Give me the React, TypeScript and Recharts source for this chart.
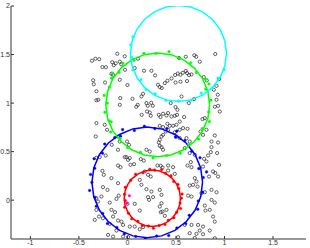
import React from 'react';
import { ComposedChart, Scatter, XAxis, YAxis } from 'recharts';

const xTicks = [-1, -0.5, 0, 0.5, 1, 1.5];
const yTicks = [0, 0.5, 1, 1.5, 2];

const samplePoints: number[][] = [
  [-0.365,1.436],[-0.330,1.457],[-0.291,1.452],[-0.258,1.371],[-0.222,1.369],[-0.105,1.508],[-0.157,1.421],[-0.141,1.390],[-0.121,1.410],[-0.079,1.426],[-0.064,1.400],[-0.028,1.482],[-0.025,1.343],[0.075,1.361],[0.109,1.457],[0.171,1.333],[0.247,1.333],[0.532,1.464],[0.601,1.477],[0.689,1.493],[0.709,1.477],[0.745,1.426],[0.905,1.505],
  [-0.353,1.235],[-0.347,1.194],[-0.231,1.212],[-0.165,1.302],[-0.148,1.292],[-0.079,1.240],[-0.320,1.122],[-0.320,1.029],[-0.301,1.034],[-0.074,1.052],[-0.079,0.982],[0.000,1.186],[0.052,1.044],[0.091,0.962],[0.106,0.982],[0.144,1.068],[0.161,1.096],[0.196,1.000],[0.209,0.972],[0.245,1.003],[0.261,0.972],[0.202,0.913],
  [0.285,1.285],[0.315,1.189],[0.333,1.165],[0.354,1.155],[0.385,1.206],[0.412,1.230],[0.454,1.254],[0.491,1.289],[0.519,1.305],[0.546,1.292],[0.570,1.312],[0.601,1.330],[0.614,1.309],[0.635,1.289],[0.660,1.295],[0.495,1.212],[0.546,1.220],[0.614,1.227],[0.557,1.068],[0.632,1.000],[0.687,1.041],[0.787,1.268],[0.818,1.233],[0.890,1.137],[0.918,1.178],[0.944,1.247],[0.931,1.086],[0.918,1.034],[0.900,0.962],[0.934,0.972],
  [0.446,1.000],[0.495,0.959],[0.515,0.931],[0.419,0.897],[0.402,0.872],[0.454,0.862],[0.488,0.869],[0.584,0.856],[0.773,0.835],[0.797,0.845],[0.952,0.913],[-0.320,0.794],
  [0.147,0.879],[0.230,0.903],[0.240,0.869],[0.323,0.879],[0.340,0.856],[0.367,0.890],[0.511,0.879],[0.539,0.810],
  [0.333,0.766],[0.367,0.753],[0.412,0.787],[0.436,0.766],[0.419,0.725],[0.395,0.707],[0.367,0.673],[0.351,0.656],[0.333,0.622],[0.323,0.594],[0.333,0.560],[0.351,0.546],[0.367,0.519],[0.470,0.766],[0.505,0.776],[0.539,0.725],[0.573,0.742],[0.505,0.656],[0.539,0.639],[0.608,0.639],[0.642,0.604],
  [-0.234,0.776],[-0.210,0.725],[-0.327,0.656],[-0.097,0.656],[-0.079,0.604],[-0.004,0.604],[0.016,0.570],[-0.162,0.570],[-0.097,0.519],[-0.010,0.443],[0.006,0.415],[0.024,0.433],[0.031,0.364],[0.068,0.371],[0.137,0.423],[0.168,0.408],[0.196,0.519],[0.230,0.501],
  [-0.258,0.302],[-0.244,0.261],[-0.165,0.227],[-0.097,0.175],[0.178,0.295],[0.212,0.261],[0.240,0.243],[0.343,0.354],[0.361,0.336],
  [0.753,0.707],[0.779,0.673],[0.814,0.725],[0.866,0.604],[0.934,0.594],[0.924,0.485],[0.944,0.364],[0.814,0.398],[0.779,0.346],[0.882,0.295],[0.642,0.485],[0.694,0.467],[0.591,0.536],[0.694,0.227],[0.711,0.192],[0.676,0.158],[0.722,0.140],[0.841,0.243],[0.905,0.280],[0.934,0.243],[0.866,0.106],[0.660,0.037],[0.763,0.072],[0.866,0.003],[0.900,-0.025],[0.848,-0.100],[0.882,-0.169],[0.900,-0.221],
  [0.127,0.209],[0.144,0.158],[0.196,0.113],[0.247,0.089],[0.264,0.031],[0.223,0.003],[0.333,0.106],[0.351,0.055],[0.351,-0.031],[0.333,-0.066],[0.361,-0.118],[0.402,-0.100],[0.385,-0.162],
  [-0.320,0.021],[-0.303,-0.014],[-0.268,0.037],[-0.320,-0.100],[-0.293,-0.169],[-0.337,-0.203],[-0.252,-0.186],[-0.165,-0.100],[-0.148,-0.169],[-0.062,-0.221],[-0.045,-0.255],[0.024,-0.272],[0.075,-0.272],[0.127,-0.299],[0.161,-0.278],[0.591,-0.255],[0.660,-0.255],[0.728,-0.255],[0.779,-0.272],[0.642,-0.340],[0.711,-0.347],[0.779,-0.351],[-0.200,-0.358],[-0.148,-0.375],[-0.045,-0.375],[0.006,-0.381],[0.900,-0.392],
  [-0.320,0.436],[-0.286,0.443],[-0.224,0.460],[-0.097,0.357],[-0.072,0.340],[-0.028,0.443],[-0.252,0.134],[-0.206,0.106],[-0.113,0.013],[-0.090,0.047],[-0.182,-0.025],[-0.128,-0.124],[-0.182,-0.244],[-0.097,-0.210],[-0.113,-0.313],[0.000,-0.038],[0.075,-0.038],[0.127,-0.107],[0.212,0.031],
  [0.619,0.735],[0.900,0.666],[0.866,0.546],[0.859,0.495],[0.790,0.426],[0.831,0.460],[0.309,0.357],[0.419,0.357],[0.470,0.340],[0.419,0.305],[0.488,0.271],[0.619,0.357],[0.653,0.392],[0.660,0.340],[0.642,0.151],[0.625,0.047],[0.797,0.082],[0.918,0.082],[0.797,-0.056],[0.804,-0.107],[0.848,-0.313],[0.745,-0.313],[0.343,-0.124],[0.522,-0.381],[0.694,-0.390],[0.488,0.700],
];

const redRing: number[][] = [
  [0.546,0.020],[0.536,0.095],[0.507,0.165],[0.461,0.225],[0.401,0.271],[0.331,0.300],[0.256,0.310],[0.181,0.300],[0.111,0.271],[0.051,0.225],[0.005,0.165],[-0.024,0.095],[-0.034,0.020],[-0.024,-0.055],[0.005,-0.125],[0.051,-0.185],[0.111,-0.231],[0.181,-0.260],[0.256,-0.270],[0.331,-0.260],[0.401,-0.231],[0.461,-0.185],[0.507,-0.125],[0.536,-0.055],[0.546,0.020],
];
const blueRing: number[][] = [
  [0.774,0.183],[0.755,0.331],[0.698,0.468],[0.607,0.586],[0.489,0.677],[0.352,0.734],[0.204,0.753],[0.056,0.734],[-0.081,0.677],[-0.199,0.586],[-0.290,0.468],[-0.347,0.331],[-0.366,0.183],[-0.347,0.035],[-0.290,-0.102],[-0.199,-0.220],[-0.081,-0.311],[0.056,-0.368],[0.204,-0.387],[0.352,-0.368],[0.489,-0.311],[0.607,-0.220],[0.698,-0.102],[0.755,0.035],[0.774,0.183],
];
const greenRing: number[][] = [
  [0.847,0.982],[0.829,1.121],[0.775,1.250],[0.690,1.360],[0.580,1.445],[0.451,1.499],[0.312,1.517],[0.173,1.499],[0.044,1.445],[-0.066,1.360],[-0.151,1.250],[-0.205,1.121],[-0.223,0.982],[-0.205,0.843],[-0.151,0.714],[-0.066,0.604],[0.044,0.519],[0.173,0.465],[0.312,0.447],[0.451,0.465],[0.580,0.519],[0.690,0.604],[0.775,0.714],[0.829,0.843],[0.847,0.982],
];
const cyanRing: number[][] = [
  [1.021,1.511],[1.004,1.639],[0.955,1.759],[0.876,1.861],[0.774,1.940],[0.654,1.989],[0.526,2.006],[0.398,1.989],[0.278,1.940],[0.176,1.861],[0.097,1.759],[0.048,1.639],[0.031,1.511],[0.048,1.383],[0.097,1.263],[0.176,1.161],[0.278,1.082],[0.398,1.033],[0.526,1.016],[0.654,1.033],[0.774,1.082],[0.876,1.161],[0.955,1.263],[1.004,1.383],[1.021,1.511],
];

const redDots: number[][] = [
  [0.556,0.02],[0.563,0.063],[0.529,0.119],[0.521,0.161],[0.477,0.192],[0.449,0.250],[0.392,0.276],[0.352,0.315],[0.281,0.309],[0.230,0.319],[0.160,0.283],[0.084,0.266],[0.034,0.206],[-0.022,0.132],[-0.031,0.060],[-0.023,-0.004],[-0.029,-0.073],[0.010,-0.134],[0.044,-0.192],[0.108,-0.217],[0.153,-0.262],[0.216,-0.267],[0.267,-0.290],[0.326,-0.261],[0.387,-0.250],[0.421,-0.207],[0.479,-0.181],[0.507,-0.125],[0.547,-0.086],[0.542,-0.030],
];
const blueDots: number[][] = [
  [0.782,0.233],[0.735,0.325],[0.748,0.437],[0.663,0.504],[0.592,0.614],[0.496,0.649],[0.406,0.738],[0.282,0.737],[0.174,0.762],[0.071,0.717],[-0.050,0.727],[-0.131,0.644],[-0.234,0.578],[-0.257,0.483],[-0.344,0.427],[-0.337,0.328],[-0.380,0.265],[-0.366,0.183],[-0.390,0.100],[-0.334,0.028],[-0.321,-0.062],[-0.255,-0.138],[-0.206,-0.241],[-0.109,-0.281],[-0.032,-0.347],[0.085,-0.374],[0.184,-0.396],[0.301,-0.369],[0.425,-0.364],[0.509,-0.287],[0.600,-0.241],[0.637,-0.156],[0.725,-0.094],[0.730,-0.009],[0.775,0.082],[0.815,0.291],[-0.071,0.659],[0.509,0.711],
];
const greenDots: number[][] = [
  [0.860,1.030],[0.807,1.143],[0.806,1.245],[0.710,1.316],[0.651,1.415],[0.536,1.462],[0.428,1.530],[0.293,1.511],[0.170,1.513],[0.068,1.441],[-0.048,1.411],[-0.086,1.316],[-0.164,1.257],[-0.186,1.163],[-0.240,1.079],[-0.207,1.000],[-0.233,0.906],[-0.192,0.818],[-0.173,0.702],[-0.074,0.634],[0.002,0.540],[0.134,0.493],[0.264,0.434],[0.404,0.460],[0.545,0.484],[0.632,0.572],[0.733,0.628],[0.771,0.738],[0.845,0.809],[0.837,0.908],[0.840,1.196],[-0.155,1.309],[-0.167,0.808],
];
const cyanDots: number[][] = [
  [0.034,1.598],[0.048,1.469],[0.056,1.340],[0.141,1.241],[0.192,1.140],[0.286,1.095],[0.397,1.028],[0.526,1.021],[0.656,1.028],[0.761,1.104],[0.880,1.158],[0.933,1.257],[0.996,1.340],[0.056,1.682],
];
const magentaDots: number[][] = [
  [0.02,0.045],[-0.005,-0.03],
];

const toXY = (arr: number[][]) => arr.map(([x, y]) => ({ x, y }));

const tickStyle = { fontSize: 7, fill: '#333', fontFamily: 'Liberation Sans' };
const frame = { stroke: '#333', strokeWidth: 1 };
const noLabel = () => <g />;

const OpenCircle = (p: any) => (
  <circle cx={p.cx} cy={p.cy} r={1.6} fill="none" stroke="#222" strokeWidth={0.7} />
);
const makeDot = (color: string) => (p: any) => (
  <circle cx={p.cx} cy={p.cy} r={1.3} fill={color} stroke={color} strokeWidth={0.4} />
);
const Empty = () => <g />;

const rings = [
  { name: 'red', ring: redRing, dots: redDots, color: '#ff0000' },
  { name: 'blue', ring: blueRing, dots: blueDots, color: '#0000ff' },
  { name: 'green', ring: greenRing, dots: greenDots, color: '#00ff00' },
  { name: 'cyan', ring: cyanRing, dots: cyanDots, color: '#00ffff' },
];

export default function App() {
  return (
    <div style={{ position: 'absolute', left: 0, top: 0, width: 310, height: 248, background: '#fff' }}>
      <ComposedChart width={310} height={248} margin={{ top: 6, right: 4, bottom: 0, left: 0 }}>
        <XAxis
          xAxisId={0}
          dataKey="x"
          type="number"
          domain={[-1.2, 1.84]}
          ticks={xTicks}
          allowDataOverflow
          height={9}
          tickSize={-3}
          tickMargin={4}
          axisLine={frame}
          tickLine={frame}
          tick={tickStyle}
          interval={0}
        />
        <XAxis
          xAxisId="top"
          orientation="top"
          dataKey="x"
          type="number"
          domain={[-1.2, 1.84]}
          ticks={xTicks}
          allowDataOverflow
          height={0}
          tickSize={-3}
          axisLine={frame}
          tickLine={frame}
          tick={noLabel}
          interval={0}
        />
        <YAxis
          yAxisId={0}
          dataKey="y"
          type="number"
          domain={[-0.4, 2]}
          ticks={yTicks}
          allowDataOverflow
          width={11}
          tickSize={-3}
          tickMargin={4}
          axisLine={frame}
          tickLine={frame}
          tick={tickStyle}
          interval={0}
        />
        <YAxis
          yAxisId="right"
          orientation="right"
          dataKey="y"
          type="number"
          domain={[-0.4, 2]}
          ticks={yTicks}
          allowDataOverflow
          width={0}
          tickSize={-3}
          axisLine={frame}
          tickLine={frame}
          tick={noLabel}
          interval={0}
        />
        <Scatter
          name="samples"
          data={toXY(samplePoints)}
          shape={OpenCircle}
          isAnimationActive={false}
        />
        {rings.map((r) => (
          <Scatter
            key={r.name + '-ring'}
            name={r.name + ' fit'}
            data={toXY(r.ring)}
            line={{ stroke: r.color, strokeWidth: 1.5 }}
            lineType="joint"
            shape={Empty}
            isAnimationActive={false}
          />
        ))}
        {rings.map((r) => (
          <Scatter
            key={r.name + '-dots'}
            name={r.name + ' members'}
            data={toXY(r.dots)}
            shape={makeDot(r.color)}
            isAnimationActive={false}
          />
        ))}
        <Scatter
          name="magenta"
          data={toXY(magentaDots)}
          shape={makeDot('#ff00ff')}
          isAnimationActive={false}
        />
      </ComposedChart>
    </div>
  );
}
